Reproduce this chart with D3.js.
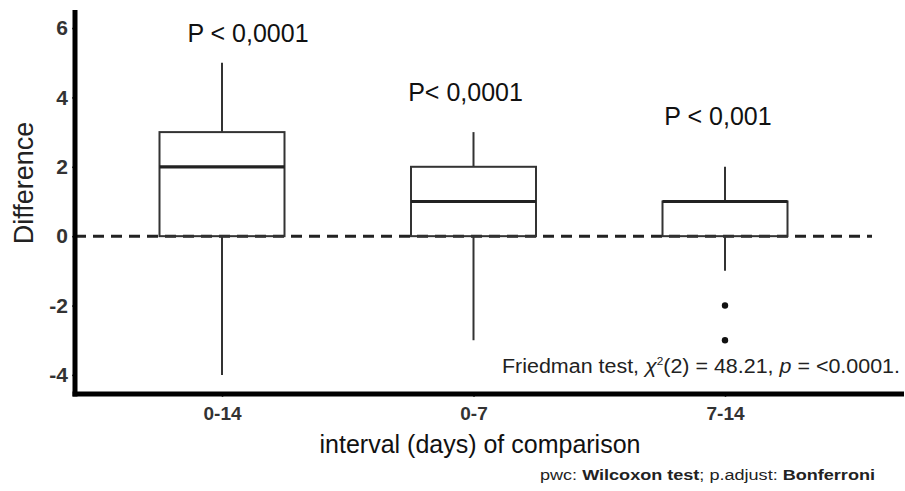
<!DOCTYPE html>
<html>
<head>
<meta charset="utf-8">
<script src="https://cdn.jsdelivr.net/npm/d3@7"></script>
<style>
  body { margin: 0; background: #fff; }
  text { font-family: "Liberation Sans", Arial, sans-serif; }
</style>
</head>
<body>
<div id="chart"></div>
<script>
// Data
const categories = ["0-14", "0-7", "7-14"];
const lowerWhisker = [-4, -3, -1];
const q1 = [0, 0, 0];
const medians = [2, 1, 1];
const q3 = [3, 2, 1];
const upperWhisker = [5, 3, 2];
const outliers = [[], [], [-2, -3]];
const pLabels = ["P < 0,0001", "P< 0,0001", "P < 0,001"];
const pLabelY = [5.6, 3.9, 3.2];
const pLabelDx = [26, -8, -7];
const yTicks = [-4, -2, 0, 2, 4, 6];

const width = 905, height = 491;

const svg = d3.select("#chart").append("svg")
    .attr("width", width)
    .attr("height", height);

// scales
const x = d3.scalePoint()
    .domain(categories)
    .range([222, 725]);

const y = d3.scaleLinear()
    .domain([-4.55, 6.52])
    .range([394, 10]);

const boxW = 125;

const boxes = categories.map((c, i) => ({
    cat: c, lo: lowerWhisker[i], q1: q1[i], med: medians[i], q3: q3[i], hi: upperWhisker[i], out: outliers[i]
}));

// reference line at zero
svg.append("line")
    .attr("x1", 75).attr("x2", 872)
    .attr("y1", y(0)).attr("y2", y(0))
    .attr("stroke", "#222")
    .attr("stroke-width", 3)
    .attr("stroke-dasharray", "11,7");

const g = svg.append("g");

// whiskers
g.selectAll(".whisk-hi").data(boxes).enter().append("line")
    .attr("x1", d => x(d.cat)).attr("x2", d => x(d.cat))
    .attr("y1", d => y(d.q3)).attr("y2", d => y(d.hi))
    .attr("stroke", "#333").attr("stroke-width", 2);
g.selectAll(".whisk-lo").data(boxes).enter().append("line")
    .attr("x1", d => x(d.cat)).attr("x2", d => x(d.cat))
    .attr("y1", d => y(d.q1)).attr("y2", d => y(d.lo))
    .attr("stroke", "#333").attr("stroke-width", 2);

// boxes
g.selectAll("rect").data(boxes).enter().append("rect")
    .attr("x", d => x(d.cat) - boxW / 2)
    .attr("width", boxW)
    .attr("y", d => y(d.q3))
    .attr("height", d => y(d.q1) - y(d.q3))
    .attr("fill", "none")
    .attr("stroke", "#333")
    .attr("stroke-width", 2);

// medians
g.selectAll(".med").data(boxes).enter().append("line")
    .attr("x1", d => x(d.cat) - boxW / 2).attr("x2", d => x(d.cat) + boxW / 2)
    .attr("y1", d => y(d.med)).attr("y2", d => y(d.med))
    .attr("stroke", "#222").attr("stroke-width", 3.2);

// outliers
boxes.forEach(b => {
    g.selectAll(null).data(b.out).enter().append("circle")
        .attr("cx", x(b.cat))
        .attr("cy", d => y(d))
        .attr("r", 3.2)
        .attr("fill", "#111");
});

// p-value labels
svg.selectAll(".plab").data(categories).enter().append("text")
    .attr("x", (d, i) => x(d) + pLabelDx[i])
    .attr("y", (d, i) => y(pLabelY[i]))
    .attr("text-anchor", "middle")
    .attr("font-size", 25)
    .attr("fill", "#111")
    .text((d, i) => pLabels[i]);

// y axis
const yAxis = svg.append("g")
    .attr("transform", "translate(75,0)")
    .call(d3.axisLeft(y).tickValues(yTicks).tickFormat(d => String(d)).tickSize(3).tickPadding(4));
yAxis.select(".domain").remove();
yAxis.selectAll(".tick line").attr("stroke", "#444").attr("stroke-width", 1.5);
yAxis.selectAll(".tick text")
    .attr("font-family", "'Liberation Sans', Arial, sans-serif")
    .attr("font-size", 21)
    .attr("font-weight", "bold")
    .attr("fill", "#333");

// x axis
const xAxis = svg.append("g")
    .attr("transform", "translate(0,394)")
    .call(d3.axisBottom(x).tickSize(3).tickPadding(10));
xAxis.select(".domain").remove();
xAxis.selectAll(".tick line").attr("stroke", "#444").attr("stroke-width", 1.5);
xAxis.selectAll(".tick text")
    .attr("font-family", "'Liberation Sans', Arial, sans-serif")
    .attr("font-size", 19)
    .attr("font-weight", "bold")
    .attr("fill", "#333");

// heavy axis lines
svg.append("line")
    .attr("x1", 75).attr("x2", 75)
    .attr("y1", 10).attr("y2", 396.5)
    .attr("stroke", "#000").attr("stroke-width", 5);
svg.append("line")
    .attr("x1", 72.5).attr("x2", 904)
    .attr("y1", 394).attr("y2", 394)
    .attr("stroke", "#000").attr("stroke-width", 5);

// axis titles
svg.append("text")
    .attr("transform", "translate(33,183) rotate(-90)")
    .attr("text-anchor", "middle")
    .attr("font-size", 27)
    .attr("fill", "#222")
    .text("Difference");

svg.append("text")
    .attr("x", 480).attr("y", 453)
    .attr("text-anchor", "middle")
    .attr("font-size", 25)
    .attr("fill", "#111")
    .text("interval (days) of comparison");

// Friedman annotation
const fr = svg.append("text")
    .attr("x", 502).attr("y", 373)
    .attr("font-family", "'Liberation Sans Narrow', 'Liberation Sans', Arial, sans-serif")
    .attr("font-size", 20)
    .attr("fill", "#222")
    .attr("textLength", 398)
    .attr("lengthAdjust", "spacingAndGlyphs");
fr.append("tspan").text("Friedman test, ");
fr.append("tspan").attr("font-style", "italic").text("χ");
fr.append("tspan").attr("dy", -8).attr("font-size", 11).text("2");
fr.append("tspan").attr("dy", 8).text("(2) = 48.21, ");
fr.append("tspan").attr("font-style", "italic").text("p");
fr.append("tspan").text(" = <0.0001.");

// footnote
const fn = svg.append("text")
    .attr("x", 540).attr("y", 480)
    .attr("font-size", 14)
    .attr("fill", "#222")
    .attr("textLength", 335)
    .attr("lengthAdjust", "spacingAndGlyphs");
fn.append("tspan").text("pwc: ");
fn.append("tspan").attr("font-weight", "bold").text("Wilcoxon test");
fn.append("tspan").text("; p.adjust: ");
fn.append("tspan").attr("font-weight", "bold").text("Bonferroni");
</script>
</body>
</html>
